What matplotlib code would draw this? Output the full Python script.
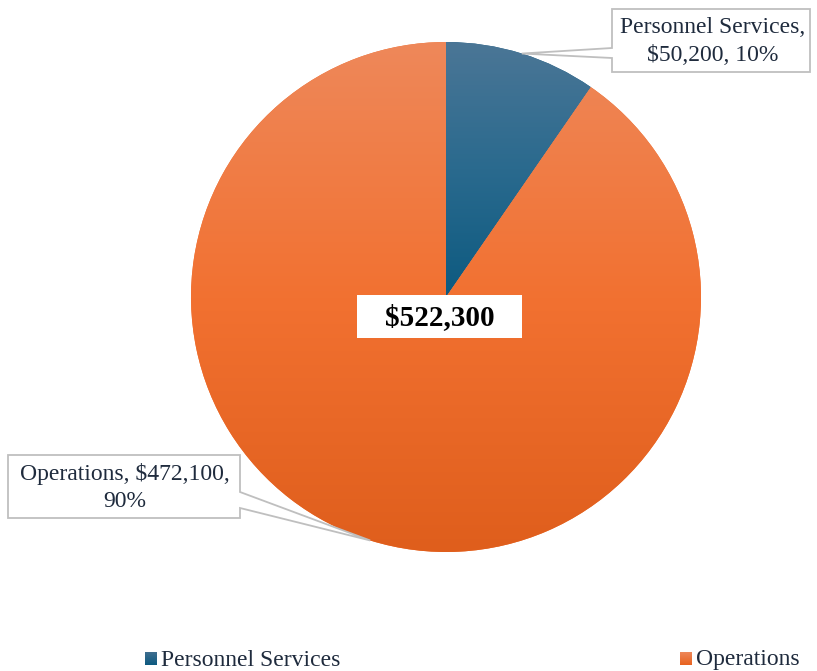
import numpy as np
import matplotlib
matplotlib.use("Agg")
import matplotlib.pyplot as plt
from matplotlib.colors import LinearSegmentedColormap
from matplotlib.patches import Polygon, Rectangle

categories = ["Personnel Services", "Operations"]
values = [50200, 472100]
total_label = "$522,300"

W, H = 817, 671
fig = plt.figure(figsize=(W / 100, H / 100), dpi=100)
plt.rcParams['font.family'] = ['Liberation Serif', 'DejaVu Serif']
TXT = '#1f2b3d'

cx, cy, R = 446, 297, 255
ax = fig.add_axes([(cx - R) / W, (H - cy - R) / H, 2 * R / W, 2 * R / H])
wedges, _ = ax.pie(values, startangle=90, counterclock=False,
                   colors=['#1f5f85', '#f07030'], radius=1,
                   wedgeprops=dict(linewidth=0))

grads = [['#4b7696', '#2a6a8e', '#0d5a80'],
         ['#ee885a', '#f27131', '#df5e1c']]
g = np.linspace(0, 1, 256).reshape(-1, 1)
for w, cols in zip(wedges, grads):
    v = w.get_path().vertices
    x0, x1 = v[:, 0].min(), v[:, 0].max()
    y0, y1 = v[:, 1].min(), v[:, 1].max()
    cmap = LinearSegmentedColormap.from_list('g', cols)
    im = ax.imshow(g, extent=[x0, x1, y0, y1], origin='upper', cmap=cmap,
                   aspect='auto', zorder=w.get_zorder() + 0.1)
    im.set_clip_path(w)
ax.set_xlim(-1, 1)
ax.set_ylim(-1, 1)
ax.set_aspect('equal')
ax.axis('off')

# overlay axes in pixel coords
ov = fig.add_axes([0, 0, 1, 1])
ov.set_xlim(0, W)
ov.set_ylim(H, 0)
ov.axis('off')

def tip_of(w):
    mid = np.deg2rad((w.theta1 + w.theta2) / 2)
    p = ax.transData.transform((np.cos(mid), np.sin(mid)))
    return ov.transData.inverted().transform(p)

total = sum(values)
labels = [f"{categories[0]},\n${values[0]:,}, {round(100 * values[0] / total)}%",
          f"{categories[1]}, ${values[1]:,},\n{round(100 * values[1] / total)}%"]

FS = 17
LS = 1.38
# Personnel callout
t = tip_of(wedges[0])
bx0, by0, bx1, by1 = 612, 9, 810, 72
poly = [(bx0, by0), (bx1, by0), (bx1, by1), (bx0, by1), (bx0, 58), tuple(t), (bx0, 48)]
ov.add_patch(Polygon(poly, closed=True, facecolor='white', edgecolor='#bfbfbf', lw=1.3, zorder=5))
ov.text((bx0 + bx1) / 2 + 2, (by0 + by1) / 2 + 1, labels[0], ha='center', va='center',
        fontsize=FS, color=TXT, linespacing=LS, zorder=6)

# Operations callout
t = tip_of(wedges[1])
bx0, by0, bx1, by1 = 8, 455, 240, 518
poly = [(bx0, by0), (bx1, by0), (bx1, 492), tuple(t), (bx1, 508), (bx1, by1), (bx0, by1)]
ov.add_patch(Polygon(poly, closed=True, facecolor='white', edgecolor='#bfbfbf', lw=1.3, zorder=5))
ov.text((bx0 + bx1) / 2 + 1, (by0 + by1) / 2 + 1, labels[1], ha='center', va='center',
        fontsize=FS, color=TXT, linespacing=LS, zorder=6)

# center total
ov.add_patch(Rectangle((357, 295), 165, 43, facecolor='white', edgecolor='none', zorder=5))
ov.text(439.5, 318, total_label, ha='center', va='center', fontsize=21,
        fontweight='bold', color='black', zorder=6)

# legend
leg = [(145, categories[0], ['#3f6e8f', '#0d5a80']), (680, categories[1], ['#ee885a', '#e8621f'])]
for x, name, cols in leg:
    cm = LinearSegmentedColormap.from_list('l', cols)
    ov.imshow(g, extent=[x, x + 12, 665, 652], origin='upper', cmap=cm, aspect='auto', zorder=5)
    ov.text(x + 16, 660, name, ha='left', va='center', fontsize=FS, color=TXT, zorder=6)
ov.set_xlim(0, W)
ov.set_ylim(H, 0)

fig.savefig('out.png', dpi=100)
